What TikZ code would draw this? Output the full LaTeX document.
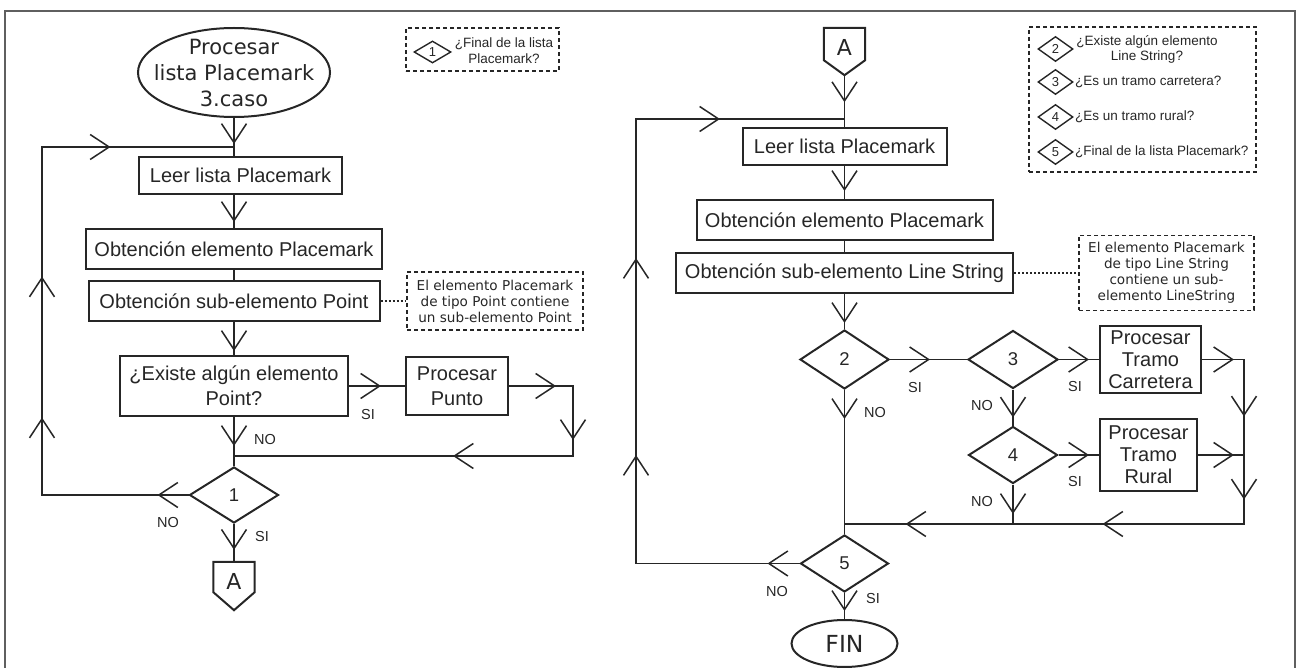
\documentclass[tikz,border=0pt]{standalone}
\usepackage{fontspec}
\setmainfont{Liberation Sans}
\newfontfamily\vfont{DejaVu Sans}
\usetikzlibrary{shapes.geometric,decorations.markings,arrows.meta,calc}
\definecolor{ink}{RGB}{38,38,38}
\definecolor{framecol}{RGB}{95,95,95}
\tikzset{
  vt/.tip={Straight Barb[length=19pt,width=25pt]},
  conn/.style={draw=ink,line width=1.5pt},
  arr/.style={postaction={decorate,decoration={markings,
      mark=at position #1 with {\arrow{vt}}}}},
  box/.style={draw=ink,line width=2pt,rectangle,inner sep=0pt,align=center,
      text=ink,font=\fontsize{20}{22}\selectfont},
  dia/.style={diamond,draw=ink,line width=2pt,inner sep=0pt,text=ink,
      font=\fontsize{18.5}{18.5}\selectfont},
  term/.style={rectangle,inner sep=0pt,align=center,text=ink},
  shapeline/.style={draw=ink,line width=2pt},
  lbl/.style={inner sep=0pt,text=ink,font=\fontsize{14.5}{14.5}\selectfont},
  note/.style={draw=ink,line width=1.4pt,dash pattern=on 4pt off 3pt,rectangle,
      inner sep=0pt,align=center,text=ink,font=\vfont\fontsize{13.6}{16}\selectfont},
  dotc/.style={draw=ink,line width=1.2pt,dash pattern=on 2pt off 2pt},
  legbox/.style={draw=ink,line width=1.4pt,dash pattern=on 4pt off 3pt,rectangle,inner sep=0pt},
  legdia/.style={diamond,draw=ink,line width=1.4pt,inner sep=0pt,text=ink,
      font=\fontsize{13}{13}\selectfont},
  legtxt/.style={inner sep=0pt,align=center,text=ink,font=\fontsize{13.5}{15.5}\selectfont},
}
\begin{document}
\begin{tikzpicture}[x=1pt,y=-1pt,line join=miter]
\useasboundingbox (0,0) rectangle (1296,668);
% outer frame
\draw[framecol,line width=1.5pt] (5,690) -- (5,11) -- (1295,11) -- (1295,690);

% ---------------- left flow ----------------
\node[term,minimum width=192,minimum height=89,font=\vfont\fontsize{21}{26}\selectfont]
  (st) at (234,72.5) {Procesar\\lista Placemark\\3.caso};
\draw[shapeline] (st.center) ellipse [x radius=96, y radius=44.5];
\node[box,minimum width=203,minimum height=37] (leer1) at (240.5,175.5) {Leer lista Placemark};
\node[box,minimum width=296,minimum height=40] (obt1) at (234,249) {Obtención elemento Placemark};
\node[box,minimum width=291,minimum height=40] (sub1) at (234,301) {Obtención sub-elemento Point};
\node[note,minimum width=176,minimum height=58] (cm1) at (495,301)
  {El elemento Placemark\\de tipo Point contiene\\un sub-elemento Point};
\node[box,minimum width=228,minimum height=60,font=\fontsize{20}{25}\selectfont] (ex1) at (234,386) {¿Existe algún elemento\\Point?};
\node[box,minimum width=102,minimum height=58,font=\fontsize{20}{25}\selectfont] (pp) at (457,386) {Procesar\\Punto};
\node[dia,minimum width=89,minimum height=56] (d1) at (234,495) {1};
\node[term,minimum width=41,minimum height=30] (A1) at (234,577) {};
\draw[shapeline] (A1.north west) -- (A1.north east) -- (A1.south east)
  -- ($(A1.south)+(0,18)$) -- (A1.south west) -- cycle;
\node[term,font=\vfont\fontsize{22}{22}\selectfont] (A1t) at ($(A1.center)+(0,4)$) {A};

\coordinate (j0) at (234,147);
\coordinate (j1) at (234,456);
\coordinate (lb) at (42,147);
\draw[conn,arr=-12pt] (st.south) -- (st.south |- leer1.north);
\draw[conn,arr=-6pt] (leer1.south -| obt1.north) -- (obt1.north);
\draw[conn] (obt1.south) -- (sub1.north);
\draw[conn,arr=-4pt] (sub1.south) -- (ex1.north);
\draw[conn,arr=29pt] (ex1.south) -- (d1.north);
\draw[conn,arr=-24pt] (ex1.east) -- (pp.west);
\draw[conn,arr=47pt,arr=118pt,arr=254pt] (pp.east) -- ++(64,0) |- (j1);
\draw[conn,arr=31pt,arr=224pt,arr=365pt,arr=563pt] (d1.west) -| (lb) -- (j0);
\draw[conn,arr=-12pt] (d1.south) -- (A1.north);
\draw[dotc] (sub1.east) -- (cm1.west);

\node[lbl] (l1) at (368,415) {SI};
\node[lbl] (l2) at (265,440) {NO};
\node[lbl] (l3) at (168,523) {NO};
\node[lbl] (l4) at (262,537) {SI};

% legend, left
\node[legbox,minimum width=153,minimum height=43] (lg1) at (482.5,49.5) {};
\node[legdia,minimum width=37,minimum height=22] (k1) at (432.5,52) {1};
\node[legtxt] (k1t) at (504,50.5) {¿Final de la lista\\Placemark?};

% ---------------- right flow ----------------
\node[term,minimum width=41,minimum height=32] (A2) at (844.5,44) {};
\draw[shapeline] (A2.north west) -- (A2.north east) -- (A2.south east)
  -- ($(A2.south)+(0,15)$) -- (A2.south west) -- cycle;
\coordinate (A2tip) at ($(A2.south)+(0,15)$);
\node[term,font=\vfont\fontsize{22}{22}\selectfont] (A2t) at ($(A2.center)+(0,3)$) {A};
\node[box,minimum width=204,minimum height=37] (leer2) at (844.5,146.5) {Leer lista Placemark};
\node[box,minimum width=296,minimum height=40] (obt2) at (844.5,220) {Obtención elemento Placemark};
\node[box,minimum width=337,minimum height=40] (sub2) at (844.5,273) {Obtención sub-elemento Line String};
\node[note,minimum width=175,minimum height=75] (cm2) at (1166.5,273)
  {El elemento Placemark\\de tipo Line String\\contiene un sub-\\elemento LineString};
\node[dia,minimum width=89,minimum height=59] (d2) at (844.5,359.5) {2};
\node[dia,minimum width=90,minimum height=58] (d3) at (1013,359.5) {3};
\node[box,minimum width=101,minimum height=67] (car) at (1150.5,359.5) {Procesar\\Tramo\\Carretera};
\node[dia,minimum width=89,minimum height=57] (d4) at (1013,455) {4};
\node[box,minimum width=97,minimum height=72] (rur) at (1148.5,455) {Procesar\\Tramo\\Rural};
\node[dia,minimum width=88,minimum height=57] (d5) at (844.5,563.5) {5};
\node[ellipse,draw=ink,line width=2pt,inner sep=0pt,minimum width=106,minimum height=47,
  text=ink,font=\vfont\fontsize{23.5}{23.5}\selectfont] (fin) at (844.5,643.5) {FIN};

\coordinate (j5) at (844.5,119);
\coordinate (j3) at (844.5,524);
\coordinate (rb) at (636,119);
\coordinate (cr) at ($(car.east)+(42,0)$);
\draw[conn,arr=27pt] (A2tip) -- (leer2.north);
\draw[conn,arr=-8pt] (leer2.south) -- (obt2.north);
\draw[conn] (obt2.south) -- (sub2.north);
\draw[conn,arr=-6pt] (sub2.south) -- (d2.north);
\draw[conn,arr=40pt] (d2.east) -- (d3.west);
\draw[conn,arr=-10pt] (d3.east) -- (car.west);
\draw[conn,arr=32pt,arr=99pt,arr=182pt,arr=348pt,arr=545pt] (car.east) -- (cr) |- (j3);
\draw[conn,arr=-10pt] (rur.east) -- (rur.east -| cr);
\draw[conn,arr=-8pt] (d3.south) -- (d4.north);
\draw[conn,arr=-10pt] (d4.east) -- (rur.west);
\draw[conn,arr=-10pt] (d4.south) -- (d4.south |- j3);
\draw[conn,arr=29pt] (d2.south) -- (d5.north);
\draw[conn,arr=32pt,arr=272pt,arr=469pt,arr=692pt] (d5.west) -| (rb) -- (j5);
\draw[conn,arr=-8pt] (d5.south) -- (fin.north);
\draw[dotc] (sub2.east) -- (cm2.west);

\node[lbl] (r1) at (915,388) {SI};
\node[lbl] (r2) at (1075,387) {SI};
\node[lbl] (r3) at (982,406) {NO};
\node[lbl] (r4) at (875,413) {NO};
\node[lbl] (r5) at (1075,482) {SI};
\node[lbl] (r6) at (982,502) {NO};
\node[lbl] (r7) at (777,592) {NO};
\node[lbl] (r8) at (873,599) {SI};

% legend, right
\node[legbox,minimum width=227,minimum height=145] (lg2) at (1142.5,99.5) {};
\node[legdia,minimum width=35,minimum height=25] (k2) at (1055.5,49) {2};
\node[legdia,minimum width=35,minimum height=25] (k3) at (1055.5,82) {3};
\node[legdia,minimum width=35,minimum height=25] (k4) at (1055.5,117) {4};
\node[legdia,minimum width=35,minimum height=25] (k5) at (1055.5,152) {5};
\node[legtxt] (k2t) at (1147,49.5) {¿Existe algún elemento\\Line String?};
\node[legtxt,anchor=west] (k3t) at (1075,82) {¿Es un tramo carretera?};
\node[legtxt,anchor=west] (k4t) at (1075,117) {¿Es un tramo rural?};
\node[legtxt,anchor=west] (k5t) at (1075,152) {¿Final de la lista Placemark?};
\end{tikzpicture}
\end{document}
